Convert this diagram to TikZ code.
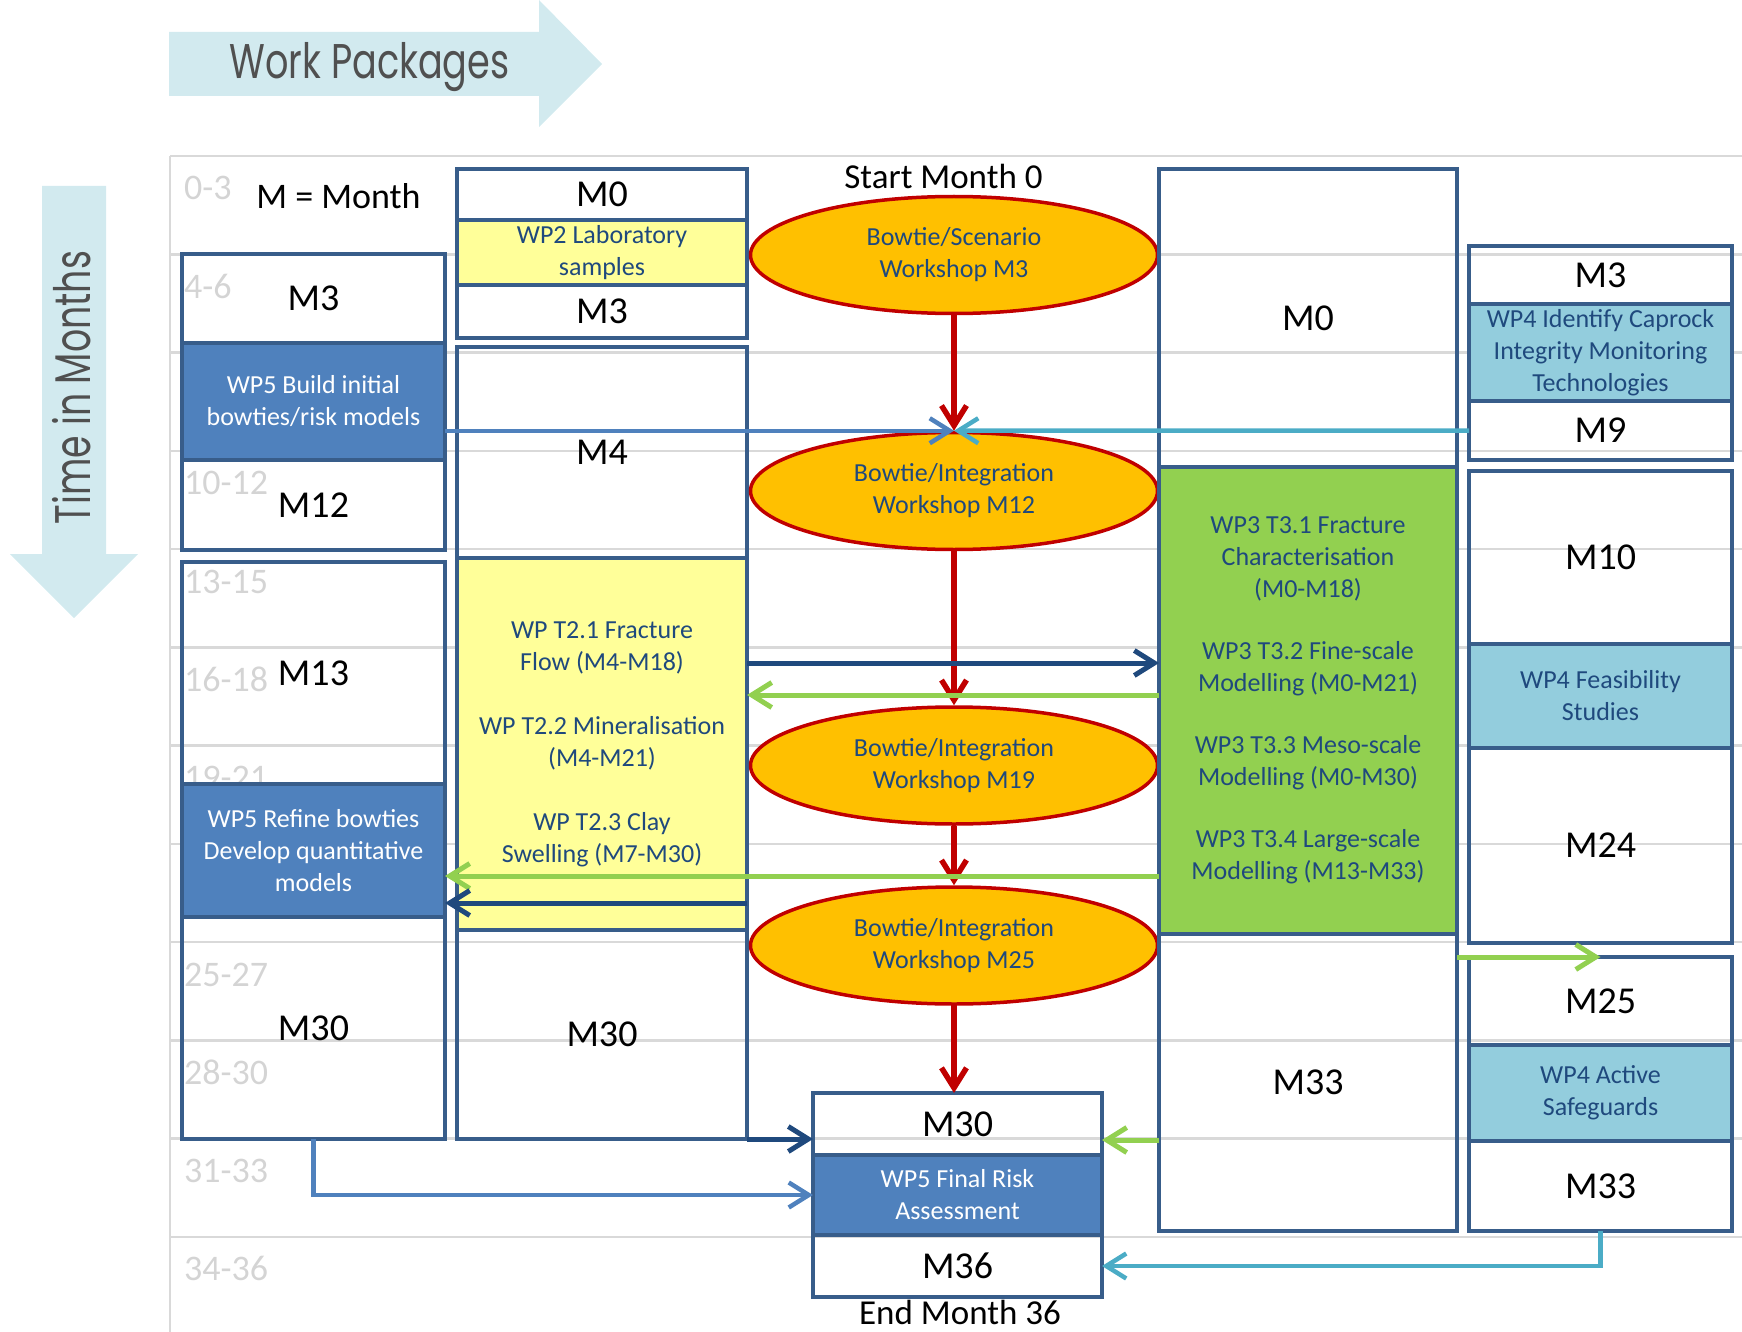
\documentclass[tikz,border=0pt]{standalone}
\usepackage{fontspec}
\usepackage{graphicx}
\setmainfont{Carlito}
\newfontfamily\titlefont{Poppins}
\usetikzlibrary{arrows.meta,shapes.geometric,calc}
\definecolor{boxline}{RGB}{56,93,138}
\definecolor{darkblue}{RGB}{31,73,125}
\definecolor{midblue}{RGB}{79,129,189}
\definecolor{wpyellow}{RGB}{255,255,153}
\definecolor{wpgreen}{RGB}{146,208,80}
\definecolor{wplight}{RGB}{147,205,221}
\definecolor{wsorange}{RGB}{255,192,0}
\definecolor{wsred}{RGB}{192,0,0}
\definecolor{cyanline}{RGB}{75,172,198}
\definecolor{gridgrey}{RGB}{217,217,217}
\definecolor{labelgrey}{RGB}{212,212,212}
\definecolor{arrowbg}{RGB}{210,234,239}
\definecolor{titlegrey}{RGB}{80,80,80}
\newcommand\capfit[3]{\resizebox{#1}{#2}{\raisebox{0pt}[\fontcharht\font`\W][0pt]{#3}}}
\tikzset{
  box/.style={draw=boxline, line width=3.5pt, rectangle, inner sep=0pt, outer sep=0pt,
    anchor=north west, align=center, font=\fontsize{38}{44}\selectfont, text=black},
  wpbox/.style={box, font=\fontsize{26}{32}\selectfont, text=darkblue},
  wpfive/.style={wpbox, fill=midblue, text=white},
  wpyel/.style={wpbox, fill=wpyellow},
  wpgrn/.style={wpbox, fill=wpgreen},
  wplgt/.style={wpbox, fill=wplight},
  wshop/.style={ellipse, draw=wsred, line width=3.5pt, fill=wsorange, minimum width=407pt,
    minimum height=117pt, inner sep=0pt, align=center, font=\fontsize{26}{32}\selectfont, text=darkblue},
  conn/.style={line width=5pt, -{Straight Barb[length=20pt,width=25pt]}},
  thinconn/.style={conn, line width=4.5pt},
  redconn/.style={conn, line width=5.5pt, wsred},
  rowlbl/.style={anchor=base west, inner sep=0pt, text=labelgrey, font=\fontsize{36}{40}\selectfont},
  bigtext/.style={anchor=base, inner sep=0pt, text=black, font=\fontsize{35}{40}\selectfont},
  gridline/.style={draw=gridgrey, line width=2.5pt}
}
\begin{document}
\begin{tikzpicture}[x=1pt,y=-1pt]
\useasboundingbox (0,0) rectangle (1742,1332);
% background arrows
\fill[arrowbg] (169,32) -- (539,32) -- (539,0) -- (602,64) -- (539,127) -- (539,96) -- (169,96) -- cycle;
\fill[arrowbg] (42,186) -- (106,186) -- (106,554) -- (138,554) -- (74,618) -- (10,554) -- (42,554) -- cycle;
\node[anchor=base, inner sep=0pt, text=titlegrey, font=\titlefont\fontsize{48}{48}\selectfont] (wptitle) at (369.5,79) {\capfit{280pt}{34pt}{Work Packages}};
\node[anchor=base, rotate=90, inner sep=0pt, text=titlegrey, font=\titlefont\fontsize{48}{48}\selectfont] (timetitle) at (90,387.5) {\capfit{273pt}{35pt}{Time in Months}};
% grid
\draw[draw=gridgrey, line width=1.5pt] (170,156) -- (170,1332);
\foreach \k/\lbl in {0/0-3,1/4-6,2/7-9,3/10-12,4/13-15,5/16-18,6/19-21,7/22-24,8/25-27,9/28-30,10/31-33,11/34-36}{
  \pgfmathsetmacro\yy{156+98.27*\k}
  \draw[gridline] (170,\yy) -- (1742,\yy);
  \node[rowlbl] (row\k) at (184,\yy+44) {\lbl};
}
\node[bigtext, font=\fontsize{36}{40}\selectfont] (legend) at (338.5,209) {M = Month};
% column 1 (WP5)
\node[box, minimum width=263pt, minimum height=89pt] (c1m3) at (182,254) {M3};
\node[wpfive, minimum width=263pt, minimum height=117pt] (c1build) at (182,343) {WP5 Build initial\\bowties/risk models};
\node[box, minimum width=263pt, minimum height=90pt] (c1m12) at (182,460) {M12};
\node[box, minimum width=263pt, minimum height=222pt] (c1m13) at (182,562) {M13};
\node[wpfive, minimum width=263pt, minimum height=133pt] (c1refine) at (182,784) {WP5 Refine bowties\\Develop quantitative\\models};
\node[box, minimum width=263pt, minimum height=222pt] (c1m30) at (182,917) {M30};
% column 2 (WP2)
\node[box, minimum width=290pt, minimum height=51pt] (c2m0) at (457,169) {M0};
\node[wpyel, minimum width=290pt, minimum height=65pt] (c2lab) at (457,220) {WP2 Laboratory\\samples};
\node[box, minimum width=290pt, minimum height=53pt] (c2m3) at (457,285) {M3};
\node[box, minimum width=290pt, minimum height=211pt] (c2m4) at (457,347) {M4};
\node[wpyel, minimum width=290pt, minimum height=372pt] (c2t2) at (457,558) {WP T2.1 Fracture\\Flow (M4-M18)\\[32pt]WP T2.2 Mineralisation\\(M4-M21)\\[32pt]WP T2.3 Clay\\Swelling (M7-M30)};
\node[box, minimum width=290pt, minimum height=209pt] (c2m30) at (457,930) {M30};
% column 3 (workshops)
\node[bigtext] (startlbl) at (943.5,189) {Start Month 0};
\node[wshop] (e1) at (954,255) {Bowtie/Scenario\\Workshop M3};
\node[wshop] (e2) at (954,491) {Bowtie/Integration\\Workshop M12};
\node[wshop] (e3) at (954,765.5) {Bowtie/Integration\\Workshop M19};
\node[wshop] (e4) at (954,945.5) {Bowtie/Integration\\Workshop M25};
\node[box, minimum width=289pt, minimum height=62pt] (fm30) at (813,1093) {M30};
\node[wpfive, minimum width=289pt, minimum height=80pt] (ffinal) at (813,1155) {WP5 Final Risk\\Assessment};
\node[box, minimum width=289pt, minimum height=62pt] (fm36) at (813,1235) {M36};
\node[bigtext] (endlbl) at (960,1324) {End Month 36};
% column 4 (WP3)
\node[box, minimum width=298pt, minimum height=298pt] (c4m0) at (1159,169) {M0};
\node[wpgrn, minimum width=298pt, minimum height=467pt] (c4green) at (1159,467) {WP3 T3.1 Fracture\\Characterisation\\(M0-M18)\\[30pt]WP3 T3.2 Fine-scale\\Modelling (M0-M21)\\[30pt]WP3 T3.3 Meso-scale\\Modelling (M0-M30)\\[30pt]WP3 T3.4 Large-scale\\Modelling (M13-M33)};
\node[box, minimum width=298pt, minimum height=297pt] (c4m33) at (1159,934) {M33};
% column 5 (WP4)
\node[box, minimum width=263pt, minimum height=58pt] (c5m3) at (1469,246) {M3};
\node[wplgt, minimum width=263pt, minimum height=97pt] (c5ident) at (1469,304) {WP4 Identify Caprock\\Integrity Monitoring\\Technologies};
\node[box, minimum width=263pt, minimum height=59pt] (c5m9) at (1469,401) {M9};
\node[box, minimum width=263pt, minimum height=173pt] (c5m10) at (1469,471) {M10};
\node[wplgt, minimum width=263pt, minimum height=104pt] (c5feas) at (1469,644) {WP4 Feasibility\\Studies};
\node[box, minimum width=263pt, minimum height=195pt] (c5m24) at (1469,748) {M24};
\node[box, minimum width=263pt, minimum height=88pt] (c5m25) at (1469,957) {M25};
\node[wplgt, minimum width=263pt, minimum height=96pt] (c5active) at (1469,1045) {WP4 Active\\Safeguards};
\node[box, minimum width=263pt, minimum height=90pt] (c5m33) at (1469,1141) {M33};
% connectors
\draw[redconn] (e1.south) -- (e2.north);
\draw[redconn] (e2.south) -- (e3.north);
\draw[redconn] (e3.south) -- (e4.north);
\draw[redconn] (e4.south) -- (e4.south |- fm30.north);
\draw[thinconn, midblue] (c1build.east |- e2.north) -- (e2.north);
\draw[thinconn, cyanline] (c5m9.west) -- (e2.north);
\draw[conn, darkblue] (c2t2.east |- 0,663) -- (c4green.west |- 0,663);
\draw[conn, wpgreen] (c4green.west |- 0,695) -- (c2t2.east |- 0,695);
\draw[conn, wpgreen] (c4green.west |- 0,876) -- (c1refine.east |- 0,876);
\draw[conn, darkblue] (c2t2.east |- 0,903) -- (c1refine.east |- 0,903);
\draw[conn, darkblue] (c2m30.south east) -- (fm30.west |- c2m30.south east);
\draw[thinconn, midblue] (c1m30.south) |- (ffinal.west);
\draw[conn, wpgreen] (c4m33.west |- 0,1140) -- (fm30.east |- 0,1140);
\draw[thinconn, cyanline] (c5m33.south) |- (fm36.east);
\draw[conn, wpgreen] (c4m33.east |- c5m25.north) -- (c5m25.north);
\end{tikzpicture}
\end{document}
